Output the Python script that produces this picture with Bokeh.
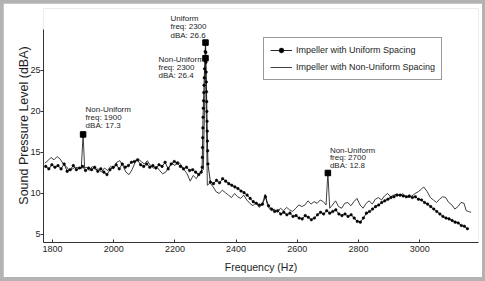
from bokeh.plotting import figure
from bokeh.models import ColumnDataSource, Range1d, Legend, LegendItem, FixedTicker
from bokeh.layouts import column
from bokeh.embed import file_html
from bokeh.resources import INLINE
from bokeh.core.properties import value

# ---------------- data ----------------
uniform_freq = [1778, 1788, 1798, 1808, 1818, 1828, 1838, 1848, 1858, 1868,
                1878, 1888, 1898, 1908, 1918, 1928, 1938, 1948, 1958, 1968,
                1978, 1988, 1998, 2008, 2018, 2028, 2038, 2048, 2058, 2068,
                2078, 2088, 2098, 2108, 2118, 2128, 2138, 2148, 2158, 2168,
                2178, 2188, 2198, 2208, 2218, 2228, 2238, 2248, 2258, 2268,
                2278, 2286,
                2289, 2289.6, 2290.2, 2290.8, 2291.4, 2292, 2292.8, 2293.6,
                2294.4, 2295.2, 2296, 2297, 2298, 2299, 2300,
                2301, 2301.6, 2302.2, 2302.8, 2303.4, 2304, 2304.6, 2305.2,
                2305.8, 2306.4, 2307, 2308,
                2316, 2326, 2336, 2346, 2356, 2366, 2376, 2386, 2396, 2406,
                2416, 2426, 2436, 2446, 2456, 2466, 2476, 2486, 2496, 2506,
                2516, 2526, 2536, 2546, 2556, 2566, 2576, 2586, 2596, 2606,
                2616, 2626, 2636, 2646, 2656, 2666, 2676, 2686, 2696, 2706,
                2716, 2726, 2736, 2746, 2756, 2766, 2776, 2786, 2796, 2806,
                2816, 2826, 2836, 2846, 2856, 2866, 2876, 2886, 2896, 2906,
                2916, 2926, 2936, 2946, 2956, 2966, 2976, 2986, 2996, 3006,
                3016, 3026, 3036, 3046, 3056, 3066, 3076, 3086, 3096, 3106,
                3116, 3126, 3136, 3146, 3156]
uniform_dba = [13.3, 13.0, 13.5, 13.2, 13.4, 13.0, 13.6, 12.7, 12.9, 13.4,
               12.9, 13.1, 13.3, 12.8, 13.1, 12.9, 13.2, 12.7, 13.0, 12.6,
               12.3, 12.9, 13.2, 13.5, 13.0, 13.6, 13.2, 13.4, 13.8, 13.9,
               14.1, 13.5, 13.3, 13.6, 13.2, 13.4, 13.1, 13.5, 13.3, 13.8,
               13.0, 13.6, 13.9, 13.7, 13.3, 13.0, 13.2, 12.8, 12.9, 12.6,
               12.3, 12.6,
               13.2, 14.4, 15.6, 16.8, 18.0, 19.3, 20.4, 21.3,
               22.3, 23.2, 24.1, 25.2, 26.2, 27.3, 28.4,
               27.2, 26.0, 24.8, 23.6, 22.4, 21.2, 20.0, 18.8,
               17.6, 16.4, 15.2, 13.6,
               11.4, 11.2, 11.6, 11.3, 11.8, 11.5, 11.2, 11.0, 10.8, 10.6,
               10.3, 10.1, 9.8, 9.4, 9.0, 8.8, 8.6, 8.7, 9.6, 8.5,
               8.1, 7.8, 7.9, 7.5, 7.7, 7.4, 7.6, 7.2, 7.3, 7.0,
               6.9, 7.3, 7.1, 6.8, 7.0, 7.4, 7.7, 7.5, 7.9, 7.6,
               7.8, 8.0, 7.5, 7.3, 7.5, 7.2, 7.4, 7.0, 6.6, 6.5,
               7.0, 7.6, 7.8, 8.1, 8.4, 8.6, 8.9, 9.1, 9.3, 9.5,
               9.6, 9.8, 9.8, 9.7, 9.6, 9.7, 9.5, 9.6, 9.3, 9.2,
               8.9, 8.7, 8.4, 8.1, 7.8, 7.5, 7.2, 7.0, 6.9, 6.7,
               6.5, 6.4, 6.1, 6.0, 5.7]

nonuniform_freq = [1775, 1785, 1795, 1805, 1815, 1825, 1835, 1845, 1855, 1865,
                   1875, 1885, 1894, 1900, 1905, 1912, 1920, 1930, 1940, 1950,
                   1960, 1970, 1980, 1990, 2000, 2010, 2020, 2030, 2040, 2050,
                   2060, 2070, 2080, 2090, 2100, 2110, 2120, 2130, 2140, 2150,
                   2160, 2170, 2180, 2190, 2200, 2210, 2220, 2230, 2240, 2250,
                   2260, 2270, 2280, 2293, 2300, 2306,
                   2315, 2325, 2335, 2345, 2355, 2365, 2375, 2385, 2395, 2405,
                   2415, 2425, 2435, 2445, 2455, 2465, 2475, 2485, 2495, 2501,
                   2508, 2515, 2525, 2535, 2545, 2555, 2565, 2575, 2585, 2595,
                   2605, 2615, 2625, 2635, 2645, 2655, 2665, 2675, 2685, 2694,
                   2700, 2706, 2715, 2725, 2735, 2745, 2755, 2765, 2775, 2785,
                   2795, 2805, 2815, 2825, 2835, 2845, 2855, 2865, 2875, 2885,
                   2895, 2905, 2915, 2925, 2935, 2945, 2955, 2965, 2975, 2985,
                   2995, 3005, 3013, 3025, 3035, 3045, 3055, 3065, 3075, 3085,
                   3095, 3105, 3115, 3125, 3135, 3145, 3152, 3160, 3168]
nonuniform_dba = [13.7, 14.0, 14.4, 14.1, 14.5, 14.2, 13.6, 13.3, 12.8, 13.0,
                  13.2, 13.1, 13.0, 17.2, 13.1, 13.2, 12.8, 13.3, 12.9, 13.0,
                  12.6, 13.1, 12.8, 13.3, 13.0, 13.8, 14.0, 13.4, 12.6, 12.3,
                  12.9, 13.8, 14.2, 13.9, 13.6, 14.0, 13.4, 13.1, 13.3, 12.8,
                  12.4, 12.6, 13.2, 13.7, 13.4, 13.9, 13.5, 12.9, 12.4, 11.5,
                  12.2, 11.8, 12.5, 12.9, 26.5, 11.0,
                  11.3, 10.8, 10.2, 10.0, 10.4, 10.1, 9.8, 9.5, 10.0, 9.6,
                  9.4, 9.8, 9.2, 8.8, 8.5, 8.9, 8.3, 8.6, 9.9, 8.8,
                  8.2, 7.9, 8.1, 7.7, 8.2, 7.9, 8.3, 8.0, 7.8, 8.2,
                  8.6, 8.4, 8.6, 9.1, 8.7, 9.0, 8.8, 9.2, 9.0, 8.6,
                  12.5, 8.2, 8.6, 9.1, 8.4, 8.2, 8.8, 8.9, 8.5, 9.0,
                  9.4, 8.6, 8.2, 8.8, 9.1, 8.7, 9.3, 9.5, 9.2, 9.7,
                  10.0, 9.6, 9.8, 9.9, 9.7, 10.0, 9.6, 9.5, 9.7, 10.0,
                  10.2, 10.5, 10.8, 10.2, 9.5, 9.2, 8.9, 9.3, 9.6, 9.5,
                  8.9, 8.6, 8.1, 8.4, 8.9, 8.8, 7.9, 7.8, 7.7]

peak_series = ["Non-Uniform", "Uniform", "Non-Uniform", "Non-Uniform"]
peak_freq = [1900, 2300, 2300, 2700]
peak_dba_label = [17.3, 26.6, 26.4, 12.8]

x_ticks = [1800, 2000, 2200, 2400, 2600, 2800, 3000]
y_ticks = [5, 10, 15, 20, 25]

legend_labels = ["Impeller with Uniform Spacing", "Impeller with Non-Uniform Spacing"]
x_label = "Frequency (Hz)"
y_label = "Sound Pressure Level (dBA)"

# ---------------- figure ----------------
SANS = "Liberation Sans"
INK = "#1e1e1e"

p = figure(width=479, height=274, output_backend="svg", toolbar_location=None,
           x_range=Range1d(1770.6, 3192.2), y_range=Range1d(4.02, 32.56),
           min_border_left=40, min_border_right=4, min_border_top=5,
           min_border_bottom=35)
p.background_fill_color = "white"
p.border_fill_color = "white"
p.outline_line_color = None
p.grid.visible = False

# series
r_n = p.line(nonuniform_freq, nonuniform_dba, line_color="#2a2a2a", line_width=0.9)
r_u = p.line(uniform_freq, uniform_dba, line_color="#111111", line_width=0.9)
r_up = p.scatter(uniform_freq, uniform_dba, size=2.6, marker="circle",
                 fill_color="#000000", line_color="#000000", line_width=0.5)

# peak squares, placed at the top of the matching spike in each series
series_lookup = {
    "Uniform": dict(zip(uniform_freq, uniform_dba)),
    "Non-Uniform": dict(zip(nonuniform_freq, nonuniform_dba)),
}
peak_top = [series_lookup[s][f] for s, f in zip(peak_series, peak_freq)]
p.scatter(peak_freq, peak_top, marker="square", size=5.5,
          fill_color="#000000", line_color="#000000")

# annotation text (three lines per peak), offsets in screen pixels
label_dx = [2.5, -35, -47, 2]
label_dy = [[-24.5, -17, -8.5], [-24.5, -16, -7], [1.5, 9.5, 17], [-22.5, -15, -7]]
tx, ty, tt, txo, tyo = [], [], [], [], []
for i, (s, f, d, top) in enumerate(zip(peak_series, peak_freq, peak_dba_label, peak_top)):
    lines = [s, "freq: %d" % f, "dBA: %.1f" % d]
    for j, t in enumerate(lines):
        tx.append(f)
        ty.append(top)
        tt.append(t)
        txo.append(label_dx[i])
        tyo.append(label_dy[i][j])
src = ColumnDataSource(dict(x=tx, y=ty, text=tt, xo=txo, yo=tyo))
p.text(x="x", y="y", text="text", x_offset="xo", y_offset="yo", source=src,
       text_font=value(SANS), text_font_size="8px", text_color=INK,
       text_baseline="middle", text_align="left")

# axes
p.xaxis.ticker = FixedTicker(ticks=x_ticks)
p.yaxis.ticker = FixedTicker(ticks=y_ticks)
p.yaxis.bounds = (4.02, 30.0)
for ax in (p.xaxis[0], p.yaxis[0]):
    ax.axis_line_color = "#333333"
    ax.major_tick_line_color = "#333333"
    ax.minor_tick_line_color = None
    ax.major_label_text_font = SANS
    ax.major_label_text_font_size = "9px"
    ax.major_label_text_color = INK
    ax.axis_label_text_font_style = "normal"
    ax.axis_label_text_color = INK
p.xaxis.major_tick_in = 3
p.xaxis.major_tick_out = 0
p.yaxis.major_tick_in = 0
p.yaxis.major_tick_out = 3
p.xaxis.major_label_standoff = 3
p.yaxis.major_label_standoff = 0
p.xaxis.axis_label = x_label
p.yaxis.axis_label = y_label
p.xaxis.axis_label_text_font = SANS
p.xaxis.axis_label_text_font_size = "10.5px"
p.yaxis.axis_label_text_font = SANS
p.yaxis.axis_label_text_font_size = "12.5px"
p.xaxis.axis_label_standoff = 6
p.yaxis.axis_label_standoff = -4

# legend
legend = Legend(items=[LegendItem(label=legend_labels[0], renderers=[r_u, r_up]),
                       LegendItem(label=legend_labels[1], renderers=[r_n])],
                location=(220, 162), orientation="vertical")
legend.label_text_font = SANS
legend.label_text_font_size = "9px"
legend.label_text_color = INK
legend.glyph_width = 22
legend.glyph_height = 12
legend.label_height = 12
legend.spacing = 5
legend.padding = 6
legend.margin = 0
legend.label_standoff = 4
legend.border_line_color = "#333333"
legend.border_line_width = 1
legend.background_fill_color = "white"
legend.background_fill_alpha = 1
p.add_layout(legend)

layout = column(p, styles={"background-color": "#b3b3b3", "padding": "3px 3px 4px 3px"})

open("out.html", "w").write(file_html(layout, INLINE))
